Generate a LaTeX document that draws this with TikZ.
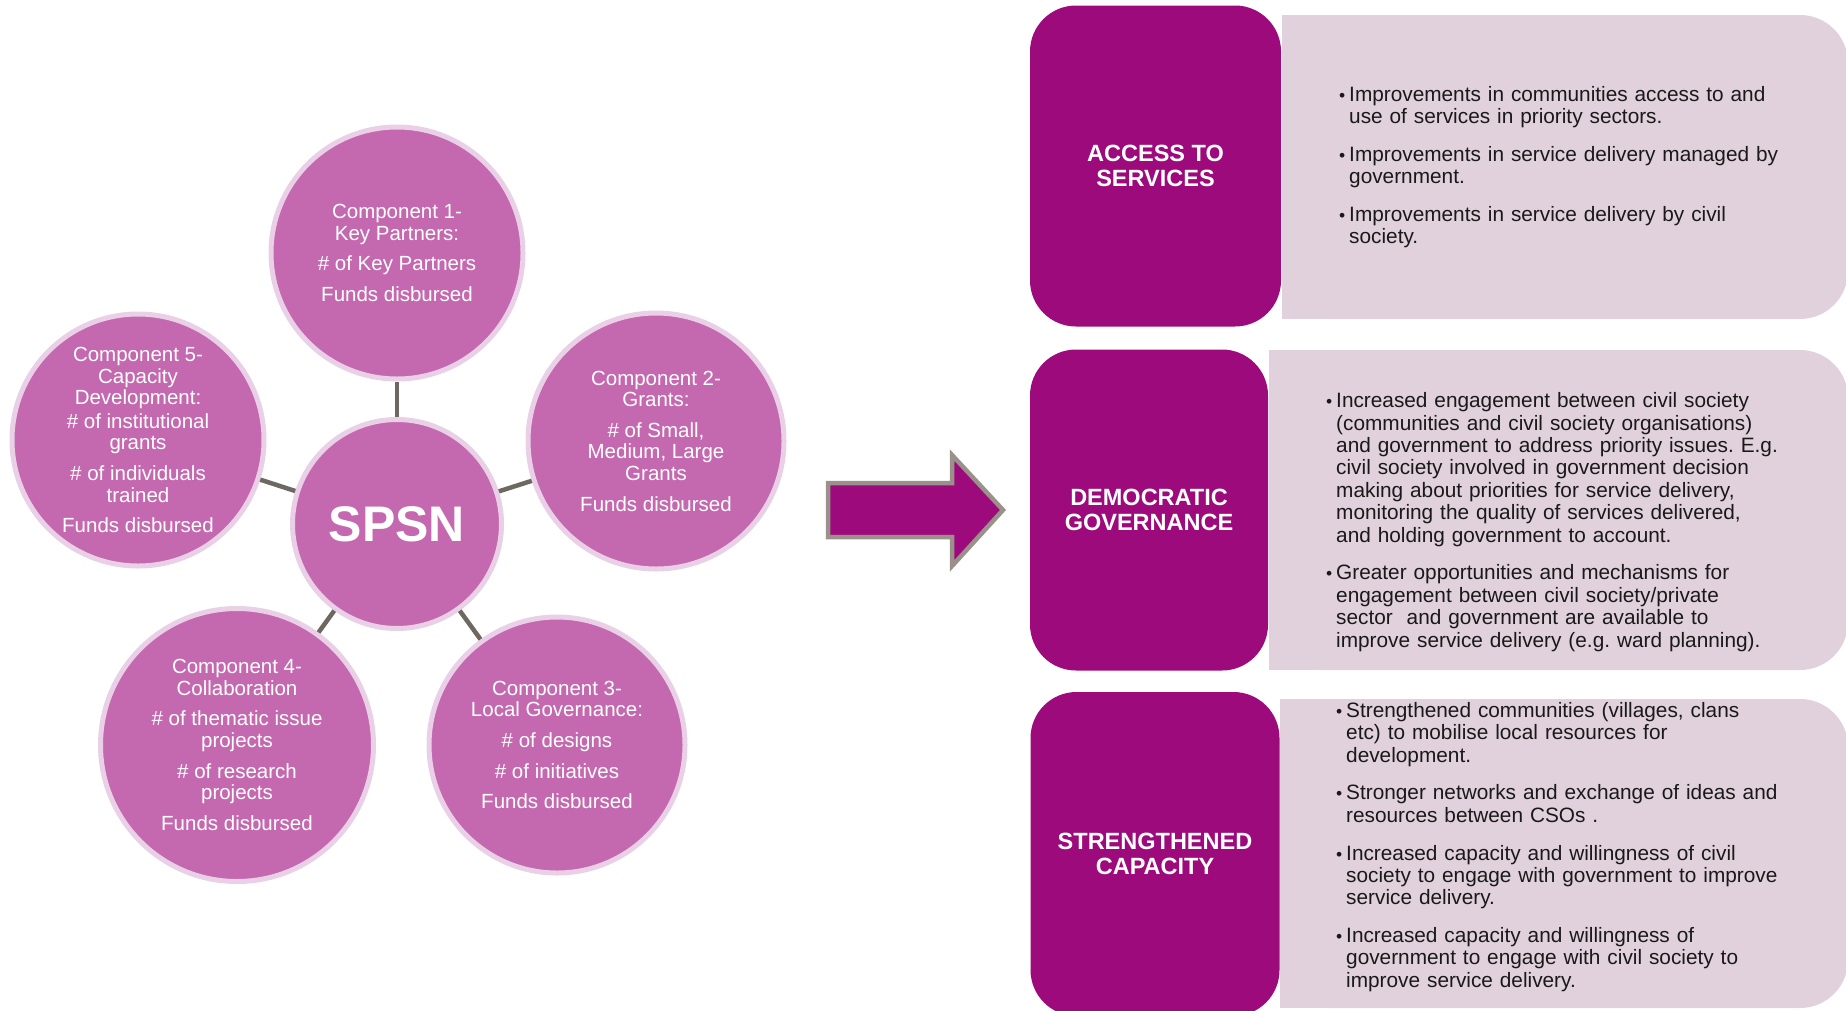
\documentclass[tikz,border=0pt]{standalone}
\usepackage{fontspec}
\setmainfont{Liberation Sans}
\usepackage{xcolor}
\usepackage{tikz}
\usetikzlibrary{positioning}

\definecolor{orchid}{RGB}{196,105,175}
\definecolor{orchidrim}{RGB}{234,208,230}
\definecolor{plum}{RGB}{157,10,124}
\definecolor{mauve}{RGB}{224,209,220}
\definecolor{spokegray}{RGB}{110,104,98}
\definecolor{arrowrim}{RGB}{154,146,138}

\newcommand{\bul}[1]{\noindent\hangindent=10pt\hangafter=1\makebox[10pt][l]{\fontsize{17.5}{17.5}\selectfont\textbullet}#1\par}

\begin{document}
\begin{tikzpicture}[
    x=1pt, y=-1pt,
    comp/.style={circle, fill=orchid, draw=orchidrim, line width=5pt, text=white, align=center, inner sep=0pt, font=\fontsize{20.5}{21.6}\selectfont},
    hub/.style={comp, font=\bfseries\fontsize{50}{50}\selectfont},
    spoke/.style={draw=spokegray, line width=4.5pt},
    head/.style={rectangle, rounded corners=46pt, fill=plum, text=white, align=center, inner sep=0pt, font=\bfseries\fontsize{23.5}{25}\selectfont},
    info/.style={text width=480pt, align=left, inner sep=0pt, anchor=west, text=black!90, font=\fontsize{20.8}{22.4}\selectfont, execute at begin node={\frenchspacing\setlength{\parskip}{15.3pt}}},
    panel/.style={fill=mauve},
    bigarrow/.style={fill=plum, draw=arrowrim, line width=4.5pt, line join=miter},
]
\useasboundingbox (0,0) rectangle (1846,1010);

\node[hub, minimum size=209pt] (spsn) at (397,524) {SPSN};
\node[comp, minimum size=252pt] (c1) at (397,253) {Component 1-\\Key Partners:\\[9pt]\# of Key Partners\\[9pt]Funds disbursed};
\node[comp, minimum size=256pt] (c2) at (656,441) {Component 2-\\Grants:\\[9pt]\# of Small,\\Medium, Large\\Grants\\[9pt]Funds disbursed};
\node[comp, minimum size=256pt] (c3) at (557,745) {Component 3-\\Local Governance:\\[9pt]\# of designs\\[9pt]\# of initiatives\\[9pt]Funds disbursed};
\node[comp, minimum size=273pt] (c4) at (237,745) {Component 4-\\Collaboration\\[9pt]\# of thematic issue\\projects\\[9pt]\# of research\\projects\\[9pt]Funds disbursed};
\node[comp, minimum size=252pt] (c5) at (138,440) {Component 5-\\Capacity\\Development:\\[2pt]\# of institutional\\grants\\[9pt]\# of individuals\\trained\\[9pt]Funds disbursed};

\draw[spoke] (spsn) -- (c1);
\draw[spoke] (spsn) -- (c2);
\draw[spoke] (spsn) -- (c3);
\draw[spoke] (spsn) -- (c4);
\draw[spoke] (spsn) -- (c5);

\draw[bigarrow] (828,483) -- (952,483) -- (952,455) -- (1003,510) -- (952,566) -- (952,537) -- (828,537) -- cycle;

% outcome panels: square on the left, rounded on the right
\fill[panel, rounded corners=48pt] (1282,15) rectangle (1848,319);
\fill[panel] (1282,15) rectangle (1400,319);
\fill[panel, rounded corners=48pt] (1269,350) rectangle (1848,670);
\fill[panel] (1269,350) rectangle (1400,670);
\fill[panel, rounded corners=48pt] (1280,699) rectangle (1848,1008);
\fill[panel] (1280,699) rectangle (1400,1008);

\node[head, minimum width=251pt, minimum height=321pt] (h1) at (1155.5,166) {ACCESS TO\\SERVICES};
\node[head, minimum width=238pt, minimum height=321pt] (h2) at (1149,510) {DEMOCRATIC\\GOVERNANCE};
\node[head, minimum width=249pt, minimum height=324pt] (h3) at (1155,854) {STRENGTHENED\\CAPACITY};

\node[info] (t1) at (1339,167) {%
\bul{Improvements in communities access to and\newline use of services in priority sectors.}
\bul{Improvements in service delivery managed by\newline government.}
\bul{Improvements in service delivery by civil\newline society.}};
\node[info] (t2) at (1326,522) {%
\bul{Increased engagement between civil society\newline (communities and civil society organisations)\newline and government to address priority issues. E.g.\newline civil society involved in government decision\newline making about priorities for service delivery,\newline monitoring the quality of services delivered,\newline and holding government to account.}
\bul{Greater opportunities and mechanisms for\newline engagement between civil society/private\newline sector\ \ and government are available to\newline improve service delivery (e.g. ward planning).}};
\node[info] (t3) at (1336,847) {%
\bul{Strengthened communities (villages, clans\newline etc) to mobilise local resources for\newline development.}
\bul{Stronger networks and exchange of ideas and\newline resources between CSOs .}
\bul{Increased capacity and willingness of civil\newline society to engage with government to improve\newline service delivery.}
\bul{Increased capacity and willingness of\newline government to engage with civil society to\newline improve service delivery.}};
\end{tikzpicture}
\end{document}
